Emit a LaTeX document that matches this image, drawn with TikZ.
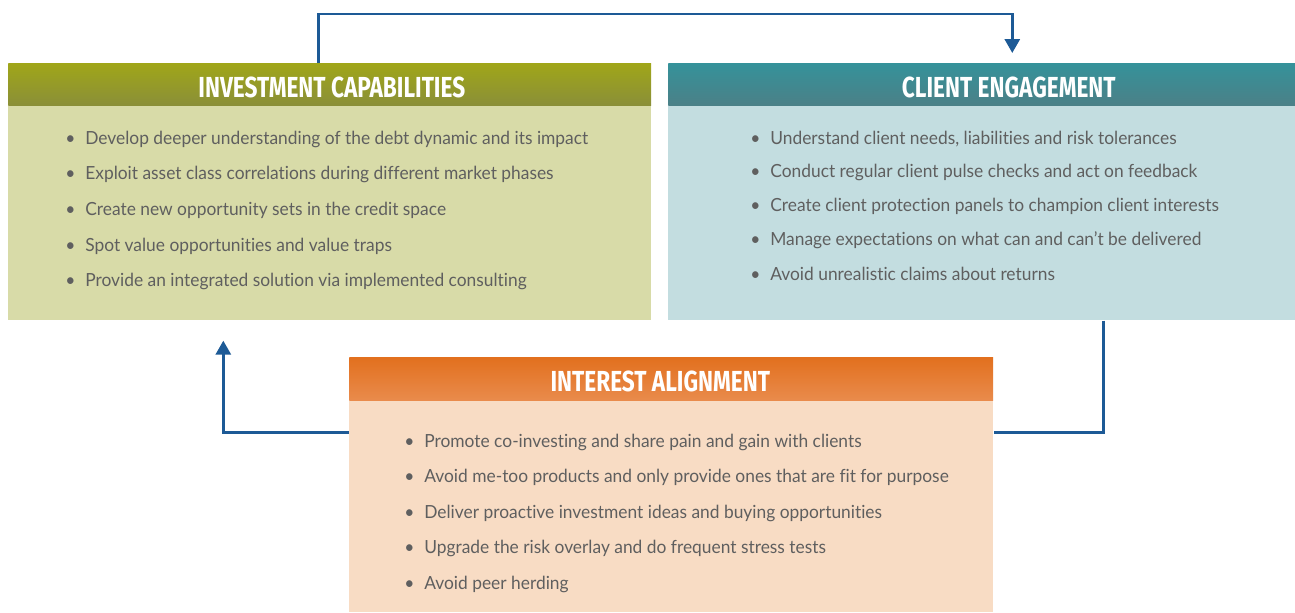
\documentclass[tikz,border=0pt]{standalone}
\usepackage{fontspec}
\setmainfont{Lato}
\newfontfamily\headfont[FakeStretch=0.78]{Fira Sans}
\newfontfamily\itemfont[FakeStretch=0.96,Ligatures=NoCommon]{Lato}
\usetikzlibrary{arrows.meta}
\definecolor{flowblue}{HTML}{1D5A96}
\definecolor{itemgray}{HTML}{5F5F5F}
\definecolor{invbody}{HTML}{D8DBA8}
\definecolor{invtop}{HTML}{A0A619}
\definecolor{invbot}{HTML}{8A8F38}
\definecolor{clibody}{HTML}{C3DDE0}
\definecolor{clitop}{HTML}{35929A}
\definecolor{clibot}{HTML}{4B8087}
\definecolor{alibody}{HTML}{F8DCC4}
\definecolor{alitop}{HTML}{E2701E}
\definecolor{alibot}{HTML}{E98B4C}
\tikzset{
  boxbody/.style={anchor=north west, inner sep=0pt},
  headbar/.style={anchor=north west, inner sep=0pt, text=white,
    text height=0.52cm, text depth=0cm,
    font=\headfont\bfseries\fontsize{16.5}{18}\selectfont},
  item/.style={anchor=west, inner sep=0pt, text=itemgray,
    font=\itemfont\fontsize{10.3}{12}\selectfont},
  flow/.style={draw=flowblue, line width=1.7pt,
    -{Triangle[width=0.3cm,length=0.28cm]}},
  link/.style={draw=flowblue, line width=1.7pt}
}
\begin{document}
\begin{tikzpicture}[x=0.02cm, y=-0.02cm]
\useasboundingbox (0,0) rectangle (1295,612);
% boxes
\node (inv) [boxbody, fill=invbody, minimum width=12.86cm, minimum height=5.14cm] at (8,63) {};
\node (invhead) [headbar, top color=invtop, bottom color=invbot, minimum width=12.86cm, minimum height=0.84cm] at (8,63) {\hspace*{0.08cm}INVESTMENT CAPABILITIES};
\node (cli) [boxbody, fill=clibody, minimum width=12.54cm, minimum height=5.14cm] at (668,63) {};
\node (clihead) [headbar, top color=clitop, bottom color=clibot, minimum width=12.54cm, minimum height=0.84cm] at (668,63) {\hspace*{1.08cm}CLIENT ENGAGEMENT};
\node (ali) [boxbody, fill=alibody, minimum width=12.88cm, minimum height=5.1cm] at (349,357) {};
\node (alihead) [headbar, top color=alitop, bottom color=alibot, minimum width=12.88cm, minimum height=0.86cm] at (349,357) {INTEREST ALIGNMENT\hspace*{0.44cm}};
% items
\foreach \t [count=\i] in {
  Develop deeper understanding of the debt dynamic and its impact,
  Exploit asset class correlations during different market phases,
  Create new opportunity sets in the credit space,
  Spot value opportunities and value traps,
  Provide an integrated solution via implemented consulting}
  \node [item] at (65, 103.3+\i*35.7) {\makebox[0.4cm][l]{\textbullet}\t};
\foreach \t [count=\i] in {
  {Understand client needs, liabilities and risk tolerances},
  Conduct regular client pulse checks and act on feedback,
  Create client protection panels to champion client interests,
  Manage expectations on what can and can’t be delivered,
  Avoid unrealistic claims about returns}
  \node [item] at (750, 105.2+\i*33.8) {\makebox[0.4cm][l]{\textbullet}\t};
\foreach \t [count=\i] in {
  Promote co-investing and share pain and gain with clients,
  Avoid me-too products and only provide ones that are fit for purpose,
  Deliver proactive investment ideas and buying opportunities,
  Upgrade the risk overlay and do frequent stress tests,
  Avoid peer herding}
  \node [item] at (404, 406.5+\i*35.5) {\makebox[0.4cm][l]{\textbullet}\t};
% connectors
\draw [flow] ([xshift=-0.23cm]invhead.north) -- ++(0,-49) -| ([xshift=0.61cm,yshift=0.2cm]clihead.north);
\draw [link] ([xshift=2.43cm]cli.south) |- ([yshift=1.05cm]ali.east);
\draw [flow] ([yshift=1.05cm]ali.west) -| ([xshift=-2.13cm,yshift=-0.4cm]inv.south);
\end{tikzpicture}
\end{document}
